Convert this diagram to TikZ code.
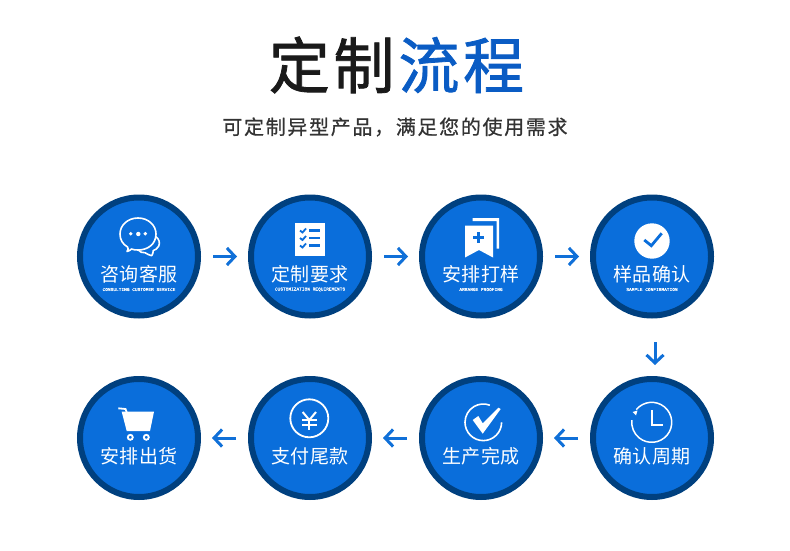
\documentclass[tikz,border=0pt]{standalone}
\usepackage{fontspec}
\usetikzlibrary{arrows.meta}
\setmainfont{Noto Sans CJK SC}
\newfontfamily\titlefont[FakeBold=1.3,LetterSpace=6]{Noto Sans CJK SC}
\newfontfamily\subfont[LetterSpace=8.4,FakeBold=0.6]{Noto Sans CJK SC}
\newfontfamily\labelfont[LetterSpace=1]{Noto Sans CJK SC}
\newfontfamily\smallfont[FakeBold=0.3]{Liberation Mono}
\definecolor{flowblue}{HTML}{0A6EDB}
\definecolor{ringblue}{HTML}{00407F}
\definecolor{titleblue}{HTML}{0A5CC4}
\definecolor{arrowblue}{HTML}{1070D8}
\definecolor{titledark}{HTML}{1A1A1A}
\definecolor{subdark}{HTML}{333333}
\tikzset{
  stepcircle/.style={circle, draw=ringblue, fill=flowblue, line width=6pt, minimum size=118pt, inner sep=0pt},
  steplabel/.style={text=white, font=\labelfont\fontsize{19}{19}\selectfont, inner sep=0pt},
  stepsmall/.style={text=white, font=\smallfont\fontsize{4.5}{4.5}\selectfont, inner sep=0pt},
  flowarrow/.style={arrowblue, line width=3pt, -{Straight Barb[length=8pt,width=17pt,line width=3pt]}, shorten >=11pt, shorten <=12pt},
  iconline/.style={white, line width=1.8pt},
  iconmark/.style={flowblue, line width=2.4pt},
}

\begin{document}
\begin{tikzpicture}[x=1pt, y=-1pt]
    \useasboundingbox (0,0) rectangle (790,551);
    % titles
    \node (title) at (396.5,65) [inner sep=0pt, text=titledark, font=\titlefont\fontsize{61}{61}\selectfont] {定制\kern4pt\textcolor{titleblue}{流程}};
    \node (subtitle) at (395,127) [inner sep=0pt, text=subdark, font=\subfont\fontsize{20}{20}\selectfont] {可定制异型产品，满足您的使用需求};
    % circles
    \node (s1) at (139,256.5) [stepcircle] {};
    \node (s2) at (310,256.5) [stepcircle] {};
    \node (s3) at (481,256.5) [stepcircle] {};
    \node (s4) at (652,256.5) [stepcircle] {};
    \node (s5) at (652,438) [stepcircle] {};
    \node (s6) at (481,438) [stepcircle] {};
    \node (s7) at (310,438) [stepcircle] {};
    \node (s8) at (139,438) [stepcircle] {};
    % labels
    \node (l1) at (139,274) [steplabel] {咨询客服};
    \node (l2) at (310,274) [steplabel] {定制要求};
    \node (l3) at (481,274) [steplabel] {安排打样};
    \node (l4) at (652,274) [steplabel] {样品确认};
    \node (l5) at (652,456) [steplabel] {确认周期};
    \node (l6) at (481,456) [steplabel] {生产完成};
    \node (l7) at (310,456) [steplabel] {支付尾款};
    \node (l8) at (139,456) [steplabel] {安排出货};
    \node (e1) at (139,289.5) [stepsmall] {CONSULTING CUSTOMER SERVICE};
    \node (e2) at (310,289.5) [stepsmall] {CUSTOMIZATION REQUIREMENTS};
    \node (e3) at (481,289.5) [stepsmall] {ARRANGE PROOFING};
    \node (e4) at (652,289.5) [stepsmall] {SAMPLE CONFIRMATION};
    % arrows
    \draw[flowarrow] (s1) -- (s2);
    \draw[flowarrow] (s2) -- (s3);
    \draw[flowarrow] (s3) -- (s4);
    \draw[flowarrow, shorten <=23.5pt] ([xshift=3pt]s4.south) -- ([xshift=3pt]s5.north);
    \draw[flowarrow] (s5) -- (s6);
    \draw[flowarrow] (s6) -- (s7);
    \draw[flowarrow] (s7) -- (s8);
    % chat icon
    \draw[iconline, line width=1.6pt, line join=round] (127,251.5) .. controls (128.5,249.5) and (128.5,248.5) .. (127.5,247)
      .. controls (122.5,244) and (120,239.5) .. (120,234)
      .. controls (120,225) and (128,218) .. (138,218)
      .. controls (148,218) and (156,225) .. (156,234)
      .. controls (156,244) and (148,250) .. (138,250)
      .. controls (135.5,250) and (133.5,249.8) .. (131.5,249)
      .. controls (130.5,250) and (129,251) .. (127,251.5) -- cycle;
    \draw[iconline, line width=1.6pt, line join=round] (156,236.7) .. controls (159,239) and (160.5,243) .. (158.5,246.5)
      .. controls (157,249) and (155,250) .. (153.3,250.5)
      .. controls (153,252.5) and (152.8,254.5) .. (151.7,255.7)
      .. controls (149,255) and (147,254) .. (145,252.7)
      .. controls (142,253) and (140,252) .. (138.3,250);
    \fill[white] (130.7,233.7) circle (1.9) (138.3,234) circle (2.2) (145.3,233.7) circle (1.9);
    % list icon
    \fill[white] (294.5,222.5) rectangle (325,255.5);
    \foreach \rowy in {230.5,238,245.5} {
      \draw[iconmark, line width=1.8pt] (300,\rowy) -- (302.5,\rowy+2) -- (306,\rowy-2);
      \draw[iconmark, line width=2.2pt] (309,\rowy) -- (319.5,\rowy);
    }
    % bookmark icon
    \fill[white] (465,225.5) -- (493,225.5) -- (493,257.5) -- (479,250) -- (465,257.5) -- cycle;
    \fill[white] (472.5,218) -- (499,218) -- (499,248.5) -- (496.5,248.5) -- (496.5,221) -- (472.5,221) -- cycle;
    \draw[iconmark, line width=2.8pt] (473,237.5) -- (484,237.5) (478.5,232) -- (478.5,243);
    % confirm icon
    \fill[white] (652,241) circle (17.7);
    \draw[iconmark, line width=2.8pt] (644.3,240) -- (651.3,245.7) -- (661.7,233.3);
    % clock icon
    \draw[iconline, line width=1.5pt] (636.3,409.6) arc[start angle=219.5, end angle=546.5, radius=20];
    \fill[white] (632.5,412) -- (637.5,410.5) -- (636,415.5) -- cycle;
    \draw[iconline] (651.7,410) -- (651.7,425) -- (663,425);
    % done icon
    \draw[iconline, line width=1.6pt] (501.6,422.3) arc[start angle=0, end angle=291, radius=18.3];
    \fill[white] (472.7,420) -- (478.3,416) -- (482.7,423.3) -- (498.3,407.7) -- (500.7,409) -- (482.7,433.7) -- cycle;
    % yuan icon
    \draw[iconline] (309.3,418.3) circle (19);
    \draw[iconline, line width=2pt] (302.7,412) -- (309.3,420) -- (316,412);
    \draw[iconline, line width=2pt] (302.3,420) -- (316.7,420) (302.3,424.5) -- (316.7,424.5) (309.3,420) -- (309.3,429.5);
    % cart icon
    \draw[iconline] (118.3,408.3) -- (125.5,409) -- (127,413);
    \fill[white] (121.7,411.7) -- (154,411.7) -- (150,431) -- (126.7,431) -- cycle;
    \draw[white, fill=flowblue, line width=1.8pt] (130.3,437.3) circle (2.5) (146.3,437.3) circle (2.5);
  \end{tikzpicture}
\end{document}
